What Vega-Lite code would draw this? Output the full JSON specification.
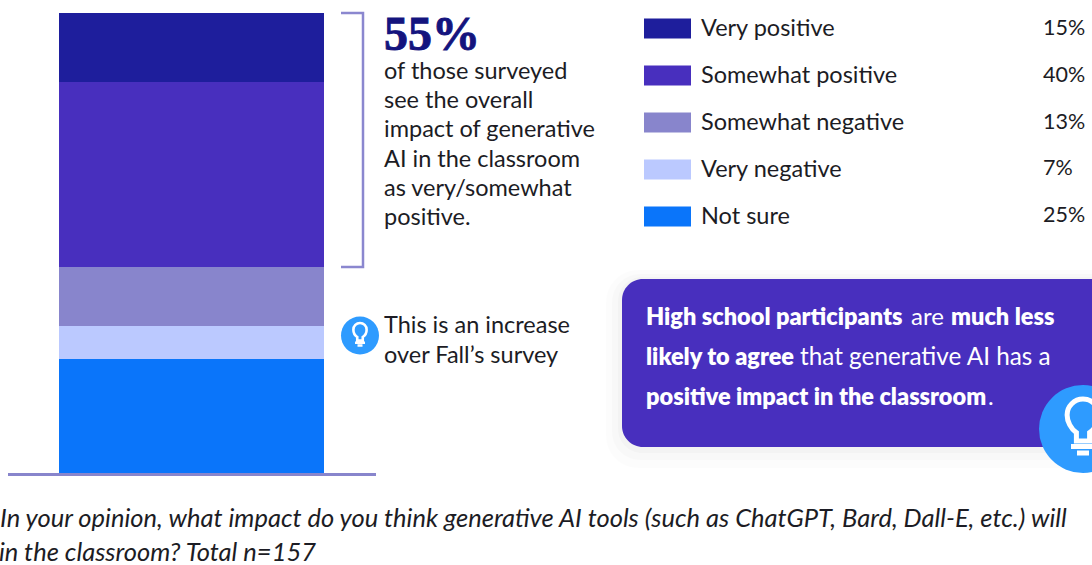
{
"$schema":"https://vega.github.io/schema/vega-lite/v6.json",
"width":1092,"height":565,"autosize":{"type":"none"},"padding":0,"background":"white",
"config":{"view":{"stroke":null},"axis":{"disable":true},"text":{"font":"Lato","fontSize":23.5,"color":"#1c1c24","align":"left","baseline":"alphabetic"}},
"datasets":{"one":[{}],"survey":[
{"category":"Very positive","value":15,"label":"15%","rank":1},
{"category":"Somewhat positive","value":40,"label":"40%","rank":2},
{"category":"Somewhat negative","value":13,"label":"13%","rank":3},
{"category":"Very negative","value":7,"label":"7%","rank":4},
{"category":"Not sure","value":25,"label":"25%","rank":5}]},
"resolve":{"scale":{"x":"independent","y":"independent"}},
"layer":[
{"data":{"name":"survey"},"mark":{"type":"bar","stroke":null},"encoding":{
"x":{"datum":"impact","type":"nominal","scale":{"range":[59,324],"paddingInner":0,"paddingOuter":0}},
"y":{"field":"value","type":"quantitative","stack":"zero","scale":{"domain":[0,100],"range":[13,474],"nice":false,"zero":false,"round":true}},
"order":{"field":"rank","type":"quantitative"},
"color":{"field":"category","type":"nominal","scale":{"domain":["Very positive","Somewhat positive","Somewhat negative","Very negative","Not sure"],"range":["#1E1E9C","#482FBE","#8885CC","#BBC9FF","#0A75FA"]},
"legend":{"orient":"none","legendX":644,"legendY":5,"title":null,"padding":0,"symbolType":"M-1,-0.43H1V0.43H-1Z","symbolSize":2209,"symbolStrokeWidth":0,"symbolOpacity":1,"labelFont":"Lato","labelFontSize":23.5,"labelColor":"#1c1c24","labelOffset":10,"rowPadding":12,"labelLimit":300}}}},
{"data":{"name":"survey"},"mark":{"type":"text","fontSize":21.5,"baseline":"middle"},"encoding":{
"x":{"datum":1043,"type":"quantitative","scale":{"domain":[0,1092],"range":[0,1092],"nice":false}},
"y":{"field":"category","type":"nominal","sort":null,"scale":{"type":"point","domain":["Very positive","Somewhat positive","Somewhat negative","Very negative","Not sure"],"range":[29,216],"padding":0}},
"text":{"field":"label"}}},
{"layer":[
{"data":{"name":"one"},"mark":{"type":"rect","color":"#000","opacity":0.012,"cornerRadius":32},"encoding":{"x":{"datum":606,"type":"quantitative","scale":{"domain":[0,1092],"range":[0,1092],"nice":false}},"x2":{"datum":1140},"y":{"datum":270,"type":"quantitative","scale":{"domain":[0,565],"range":[0,565],"nice":false}},"y2":{"datum":468}}},
{"data":{"name":"one"},"mark":{"type":"rect","color":"#000","opacity":0.015,"cornerRadius":28},"encoding":{"x":{"datum":612,"type":"quantitative"},"x2":{"datum":1140},"y":{"datum":274,"type":"quantitative"},"y2":{"datum":460}}},
{"data":{"name":"one"},"mark":{"type":"rect","color":"#000","opacity":0.02,"cornerRadius":24},"encoding":{"x":{"datum":618,"type":"quantitative"},"x2":{"datum":1140},"y":{"datum":277,"type":"quantitative"},"y2":{"datum":453}}},
{"data":{"name":"one"},"mark":{"type":"rect","color":"#482FBE","cornerRadius":21},"encoding":{"x":{"datum":622,"type":"quantitative"},"x2":{"datum":1140},"y":{"datum":279,"type":"quantitative"},"y2":{"datum":447}}},
{"data":{"values":[{"a":341,"b":13,"o":1},{"a":363,"b":13,"o":2},{"a":363,"b":267,"o":3},{"a":341,"b":267,"o":4}]},"mark":{"type":"line","color":"#8B87CF","strokeWidth":2.5,"strokeJoin":"miter"},"encoding":{"x":{"field":"a","type":"quantitative"},"y":{"field":"b","type":"quantitative"},"order":{"field":"o"}}},
{"data":{"name":"one"},"mark":{"type":"rule","color":"#8885CC","strokeWidth":3},"encoding":{"x":{"datum":8,"type":"quantitative"},"x2":{"datum":376},"y":{"datum":474.5,"type":"quantitative"}}},
{"data":{"name":"one"},"mark":{"type":"text","font":"Liberation Serif","fontWeight":"bold","fontSize":48,"color":"#14147E","stroke":"#14147E","strokeWidth":0.9,"text":"55%"},"encoding":{"x":{"datum":384,"type":"quantitative"},"y":{"datum":50,"type":"quantitative"}}},
{"data":{"name":"one"},"mark":{"type":"text","lineHeight":29.2,"text":["of those surveyed","see the overall","impact of generative","AI in the classroom","as very/somewhat","positive."]},"encoding":{"x":{"datum":384,"type":"quantitative"},"y":{"datum":79,"type":"quantitative"}}},
{"data":{"name":"one"},"mark":{"type":"text","lineHeight":30,"text":["This is an increase","over Fall’s survey"]},"encoding":{"x":{"datum":384,"type":"quantitative"},"y":{"datum":333,"type":"quantitative"}}},
{"data":{"name":"one"},"mark":{"type":"point","shape":"circle","size":1444,"filled":true,"color":"#2E9BFF","opacity":1},"encoding":{"x":{"datum":360,"type":"quantitative"},"y":{"datum":335.5,"type":"quantitative"}}},
{"data":{"name":"one"},"mark":{"type":"point","shape":"M-0.22,0.4V0.12C-0.4,0,-0.53,-0.25,-0.53,-0.47A0.53,0.53,0,1,1,0.53,-0.47C0.53,-0.25,0.4,0,0.22,0.12V0.4ZM-0.4,0.58H0.4M-0.2,0.8H0.2","size":625,"filled":false,"stroke":"white","strokeWidth":2.6,"opacity":1},"encoding":{"x":{"datum":360,"type":"quantitative"},"y":{"datum":335.5,"type":"quantitative"}}},
{"data":{"name":"one"},"mark":{"type":"text","fontWeight":800,"fontSize":23.5,"color":"white","text":"High school participants"},"encoding":{"x":{"datum":646,"type":"quantitative"},"y":{"datum":325,"type":"quantitative"}}},
{"data":{"name":"one"},"mark":{"type":"text","fontSize":24,"color":"white","text":"are"},"encoding":{"x":{"datum":911,"type":"quantitative"},"y":{"datum":325,"type":"quantitative"}}},
{"data":{"name":"one"},"mark":{"type":"text","fontWeight":800,"fontSize":23.5,"color":"white","text":"much less"},"encoding":{"x":{"datum":951,"type":"quantitative"},"y":{"datum":325,"type":"quantitative"}}},
{"data":{"name":"one"},"mark":{"type":"text","fontWeight":800,"fontSize":23.5,"color":"white","text":"likely to agree"},"encoding":{"x":{"datum":646,"type":"quantitative"},"y":{"datum":365,"type":"quantitative"}}},
{"data":{"name":"one"},"mark":{"type":"text","fontSize":24.3,"color":"white","text":"that generative AI has a"},"encoding":{"x":{"datum":800,"type":"quantitative"},"y":{"datum":365,"type":"quantitative"}}},
{"data":{"name":"one"},"mark":{"type":"text","fontWeight":800,"fontSize":23.5,"color":"white","text":"positive impact in the classroom"},"encoding":{"x":{"datum":646,"type":"quantitative"},"y":{"datum":405,"type":"quantitative"}}},
{"data":{"name":"one"},"mark":{"type":"text","fontSize":24,"color":"white","text":"."},"encoding":{"x":{"datum":988,"type":"quantitative"},"y":{"datum":405,"type":"quantitative"}}},
{"data":{"name":"one"},"mark":{"type":"point","shape":"circle","size":7744,"filled":true,"color":"#2E9BFF","opacity":1},"encoding":{"x":{"datum":1083,"type":"quantitative"},"y":{"datum":429,"type":"quantitative"}}},
{"data":{"name":"one"},"mark":{"type":"point","shape":"M-0.22,0.4V0.12C-0.4,0,-0.53,-0.25,-0.53,-0.47A0.53,0.53,0,1,1,0.53,-0.47C0.53,-0.25,0.4,0,0.22,0.12V0.4ZM-0.4,0.58H0.4M-0.2,0.8H0.2","size":3600,"filled":false,"stroke":"white","strokeWidth":5,"opacity":1},"encoding":{"x":{"datum":1083,"type":"quantitative"},"y":{"datum":429,"type":"quantitative"}}},
{"data":{"name":"one"},"mark":{"type":"text","fontStyle":"italic","fontSize":25.5,"text":"In your opinion, what impact do you think generative AI tools (such as ChatGPT, Bard, Dall-E, etc.) will"},"encoding":{"x":{"datum":0,"type":"quantitative"},"y":{"datum":527,"type":"quantitative"}}},
{"data":{"name":"one"},"mark":{"type":"text","fontStyle":"italic","fontSize":25.5,"align":"right","text":"have in the classroom? Total n=157"},"encoding":{"x":{"datum":316,"type":"quantitative"},"y":{"datum":561,"type":"quantitative"}}}
]}
]}
